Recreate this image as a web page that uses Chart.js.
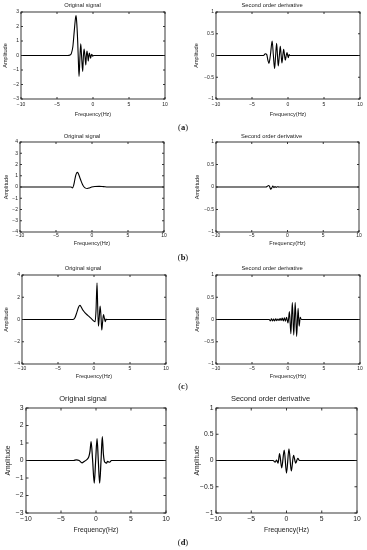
<!DOCTYPE html>
<html><head><meta charset="utf-8">
<script src="https://cdn.jsdelivr.net/npm/chart.js@4/dist/chart.umd.min.js"></script>
<style>
body{margin:0;width:367px;height:550px;position:relative;background:#fff;overflow:hidden}
canvas{position:absolute}
.cap{position:absolute;font-family:"Liberation Serif","Times New Roman",serif;font-size:8.5px;color:#111;transform:translate(-50%,-50%);white-space:nowrap}
</style></head><body>
<div id="wrap"></div>
<script>
// ---------- data ----------
const xTickVals = [-10, -5, 0, 5, 10];
const xTickLabels = ['\u221210', '\u22125', '0', '5', '10'];
const yTicks3 = [-3, -2, -1, 0, 1, 2, 3];
const yLabels3 = ['\u22123', '\u22122', '\u22121', '0', '1', '2', '3'];
const yTicks4 = [-4, -3, -2, -1, 0, 1, 2, 3, 4];
const yLabels4 = ['\u22124', '\u22123', '\u22122', '\u22121', '0', '1', '2', '3', '4'];
const yTicks4b = [-4, -2, 0, 2, 4];
const yLabels4b = ['\u22124', '\u22122', '0', '2', '4'];
const yTicks1 = [-1, -0.5, 0, 0.5, 1];
const yLabels1 = ['\u22121', '\u22120.5', '0', '0.5', '1'];

const titleOrig = 'Original signal';
const titleDeriv = 'Second order derivative';
const xAxisTitle = 'Frequency(Hz)';
const yAxisTitle = 'Amplitude';

const aOrigX = [-10, -3.5, -3.2, -3.0, -2.8, -2.6, -2.45, -2.35, -2.25, -2.12, -2.03, -1.94, -1.82, -1.7, -1.58, -1.43, -1.33, -1.24, -1.12, -1.0, -0.92, -0.83, -0.74, -0.65, -0.58, -0.5, -0.42, -0.33, -0.25, -0.17, -0.05, 0.1, 10];
const aOrigY = [0, 0, 0.03, 0.15, 0.6, 1.7, 2.5, 2.75, 2.2, 0.9, -0.4, -1.45, -0.2, 0.8, -0.1, -1.1, 0, 0.45, -0.05, -0.65, 0, 0.3, 0, -0.38, 0, 0.17, 0, -0.18, 0, 0.08, -0.04, 0, 0];
const aDerivX = [-10, -3.4, -3.15, -2.95, -2.8, -2.65, -2.45, -2.2, -2.03, -1.86, -1.72, -1.58, -1.46, -1.35, -1.2, -1.07, -0.95, -0.84, -0.72, -0.6, -0.48, -0.37, -0.25, -0.14, -0.04, 0.05, 0.15, 0.3, 10];
const aDerivY = [0, 0, 0.04, 0.02, -0.1, -0.18, 0, 0.33, 0, -0.3, 0, 0.28, 0, -0.24, 0, 0.21, 0, -0.17, 0, 0.14, 0, -0.11, 0, 0.07, 0, -0.05, 0.02, 0, 0];
const bOrigX = [-10, -2.9, -2.72, -2.55, -2.4, -2.25, -2.05, -1.9, -1.7, -1.5, -1.3, -1.1, -0.9, -0.65, -0.35, -0.05, 0.4, 1.0, 1.6, 2.2, 10];
const bOrigY = [0, 0, -0.08, 0.15, 0.6, 1.05, 1.3, 1.2, 0.85, 0.5, 0.2, 0, -0.1, -0.13, -0.08, 0, 0.05, 0.06, 0.03, 0, 0];
const bDerivX = [-10, -3.0, -2.8, -2.65, -2.5, -2.35, -2.2, -2.05, -1.9, -1.75, -1.6, -1.4, -1.2, 10];
const bDerivY = [0, 0, 0.02, 0.035, 0.01, -0.05, -0.02, 0.02, -0.015, 0.012, -0.008, 0.004, 0, 0];
const cOrigX = [-10, -2.9, -2.65, -2.4, -2.15, -1.95, -1.8, -1.6, -1.3, -1.0, -0.7, -0.4, -0.1, 0.15, 0.28, 0.42, 0.52, 0.62, 0.72, 0.85, 0.97, 1.08, 1.2, 1.32, 1.45, 1.56, 1.66, 1.78, 1.9, 10];
const cOrigY = [0, 0, 0.15, 0.6, 1.1, 1.28, 1.15, 0.9, 0.65, 0.45, 0.28, 0.1, -0.1, -0.2, 0.8, 3.3, 1.0, -0.6, 0.1, 1.2, 0.3, -0.95, -0.2, 0.45, 0.1, -0.2, 0.05, -0.02, 0, 0];
const cDerivX = [-10, -2.6, -2.45, -2.3, -2.15, -2.0, -1.85, -1.7, -1.55, -1.4, -1.25, -1.1, -0.95, -0.8, -0.65, -0.5, -0.35, -0.2, 0.0, 0.2, 0.4, 0.6, 0.8, 1.0, 1.2, 1.4, 1.55, 1.7, 1.85, 10];
const cDerivY = [0, 0, -0.03, 0.015, -0.035, 0.01, -0.03, 0.015, -0.025, 0.01, -0.02, 0.02, -0.02, 0.03, -0.03, 0.04, -0.04, 0.05, -0.08, 0.18, -0.32, 0.38, -0.35, 0.38, -0.38, 0.25, -0.15, 0.05, 0, 0];
const dOrigX = [-10, -3.2, -2.8, -2.4, -2.0, -1.7, -1.4, -1.15, -1.0, -0.85, -0.7, -0.48, -0.25, -0.05, 0.15, 0.33, 0.52, 0.72, 0.9, 1.05, 1.2, 1.35, 1.5, 1.65, 1.8, 1.95, 2.2, 10];
const dOrigY = [0, 0, 0.04, 0, -0.13, -0.06, 0.02, 0.12, 0.25, 0.55, 1.08, 0, -1.3, 0, 1.25, 0, -1.3, 0, 1.37, 0.4, -0.05, -0.12, -0.15, -0.05, -0.08, -0.1, 0, 0];
const dDerivX = [-10, -1.9, -1.6, -1.4, -1.2, -0.98, -0.68, -0.32, 0.0, 0.35, 0.68, 1.0, 1.3, 1.6, 1.85, 10];
const dDerivY = [0, 0, -0.03, 0.01, -0.05, 0.13, -0.14, 0.2, -0.24, 0.22, -0.2, 0.1, -0.05, 0.04, 0, 0];

const captions = ['a', 'b', 'c', 'd'];

// ---------- layout / style ----------
const small = {t: 5.8, tick: 5, ax: 5.5};
const big = {t: 7.5, tick: 6.8, ax: 6.8};
const panels = [
  {L:21,  T:12,  R:165, B:99,  CL:0,   titleY:5,   tickY:105, xlabY:115, yTitX:5,   fs:small, title:titleOrig,  xs:aOrigX,  ys:aOrigY,  yt:yTicks3,  yl:yLabels3},
  {L:216, T:12,  R:360, B:99,  CL:184, titleY:5,   tickY:105, xlabY:115, yTitX:196, fs:small, title:titleDeriv, xs:aDerivX, ys:aDerivY, yt:yTicks1,  yl:yLabels1},
  {L:20,  T:142, R:164, B:232, CL:0,   titleY:136, tickY:236, xlabY:244, yTitX:6,   fs:small, title:titleOrig,  xs:bOrigX,  ys:bOrigY,  yt:yTicks4,  yl:yLabels4},
  {L:216, T:142, R:359, B:232, CL:184, titleY:136, tickY:236, xlabY:244, yTitX:197, fs:small, title:titleDeriv, xs:bDerivX, ys:bDerivY, yt:yTicks1,  yl:yLabels1},
  {L:22,  T:275, R:166, B:364, CL:0,   titleY:268, tickY:369, xlabY:377, yTitX:6,   fs:small, title:titleOrig,  xs:cOrigX,  ys:cOrigY,  yt:yTicks4b, yl:yLabels4b},
  {L:216, T:275, R:360, B:364, CL:184, titleY:268, tickY:369, xlabY:377, yTitX:197, fs:small, title:titleDeriv, xs:cDerivX, ys:cDerivY, yt:yTicks1,  yl:yLabels1},
  {L:26,  T:408, R:166, B:513, CL:0,   titleY:399, tickY:519, xlabY:530, yTitX:8,   fs:big,   title:titleOrig,  xs:dOrigX,  ys:dOrigY,  yt:yTicks3,  yl:yLabels3},
  {L:216, T:408, R:357, B:513, CL:184, titleY:399, tickY:519, xlabY:530, yTitX:197, fs:big,   title:titleDeriv, xs:dDerivX, ys:dDerivY, yt:yTicks1,  yl:yLabels1}
];
const capPos = [{x:183, y:127}, {x:183, y:257}, {x:183, y:386}, {x:183, y:542}];
const FONT = '"Liberation Sans", Arial, Helvetica, sans-serif';
const INK = '#222';

const boxPlugin = {
  id: 'mbox',
  afterDatasetsDraw(chart, args, opts) {
    const {ctx, chartArea: a, scales: {x, y}} = chart;
    ctx.save();
    ctx.strokeStyle = INK;
    ctx.lineWidth = 0.9;
    ctx.strokeRect(a.left, a.top, a.right - a.left, a.bottom - a.top);
    const tl = opts.len || 2;
    ctx.beginPath();
    x.ticks.forEach(t => {
      const p = x.getPixelForValue(t.value);
      ctx.moveTo(p, a.bottom); ctx.lineTo(p, a.bottom - tl);
      ctx.moveTo(p, a.top); ctx.lineTo(p, a.top + tl);
    });
    y.ticks.forEach(t => {
      const p = y.getPixelForValue(t.value);
      ctx.moveTo(a.left, p); ctx.lineTo(a.left + tl, p);
      ctx.moveTo(a.right, p); ctx.lineTo(a.right - tl, p);
    });
    ctx.stroke();
    ctx.restore();
  }
};

const wrap = document.getElementById('wrap');
panels.forEach((P) => {
  const fs = P.fs;
  const CT = P.T - (fs === big ? 14 : 12);
  const CR = P.R + 5;
  const axLH = fs.ax * 1.2;
  const CB = Math.round(P.xlabY + axLH / 2 + 1);
  const W = CR - P.CL, H = CB - CT;
  const cv = document.createElement('canvas');
  cv.width = W; cv.height = H;
  cv.style.left = P.CL + 'px'; cv.style.top = CT + 'px';
  cv.style.width = W + 'px'; cv.style.height = H + 'px';
  wrap.appendChild(cv);
  const tLH = fs.t * 1.2;
  const tPadTop = Math.max(0, P.titleY - CT - tLH / 2);
  const tPadBot = Math.max(0, (P.T - CT) - tPadTop - tLH);
  const tickLH = fs.tick * 1.2;
  new Chart(cv, {
    type: 'line',
    data: {
      datasets: [{
        data: P.xs.map((v, i) => ({x: v, y: P.ys[i]})),
        borderColor: '#000',
        borderWidth: fs === big ? 1.2 : 1.1,
        pointRadius: 0,
        fill: false,
        cubicInterpolationMode: 'monotone'
      }]
    },
    options: {
      responsive: false,
      animation: false,
      devicePixelRatio: 1,
      layout: {padding: {top: 0, right: CR - P.R, bottom: 0, left: 0}},
      plugins: {
        legend: {display: false},
        tooltip: {enabled: false},
        title: {display: true, text: P.title, color: INK,
          font: {family: FONT, size: fs.t, weight: 'normal', lineHeight: 1.2},
          padding: {top: tPadTop, bottom: tPadBot}},
        mbox: {len: fs === big ? 2.5 : 2}
      },
      scales: {
        x: {
          type: 'linear', min: xTickVals[0], max: xTickVals[xTickVals.length - 1],
          grid: {display: false, drawTicks: false},
          border: {display: false},
          afterBuildTicks: s => { s.ticks = xTickVals.map(v => ({value: v})); },
          afterFit: s => { s.height = CB - CT - (P.B - CT); s.paddingLeft = 0; s.paddingRight = 0; },
          ticks: {color: INK, autoSkip: false, maxRotation: 0, padding: P.tickY - P.B - tickLH / 2,
            font: {family: FONT, size: fs.tick, lineHeight: 1.2},
            callback: (v, i) => xTickLabels[i]},
          title: {display: true, text: xAxisTitle, color: INK, padding: {top: 0, bottom: 1},
            font: {family: FONT, size: fs.ax, lineHeight: 1.2}}
        },
        y: {
          type: 'linear', min: P.yt[0], max: P.yt[P.yt.length - 1],
          grid: {display: false, drawTicks: false},
          border: {display: false},
          afterBuildTicks: s => { s.ticks = P.yt.map(v => ({value: v})); },
          afterFit: s => { s.width = P.L - P.CL; s.paddingTop = 0; s.paddingBottom = 0; },
          ticks: {color: INK, autoSkip: false, padding: fs === big ? 2.5 : 2,
            font: {family: FONT, size: fs.tick, lineHeight: 1.2},
            callback: (v, i) => P.yl[i]},
          title: {display: true, text: yAxisTitle, color: INK,
            padding: {top: Math.max(0, P.yTitX - P.CL - axLH / 2), bottom: 0},
            font: {family: FONT, size: fs.ax, lineHeight: 1.2}}
        }
      }
    },
    plugins: [boxPlugin]
  });
});

captions.forEach((c, i) => {
  const d = document.createElement('div');
  d.className = 'cap';
  d.style.left = capPos[i].x + 'px';
  d.style.top = capPos[i].y + 'px';
  d.innerHTML = '(<b>' + c + '</b>)';
  wrap.appendChild(d);
});
</script>
</body></html>
